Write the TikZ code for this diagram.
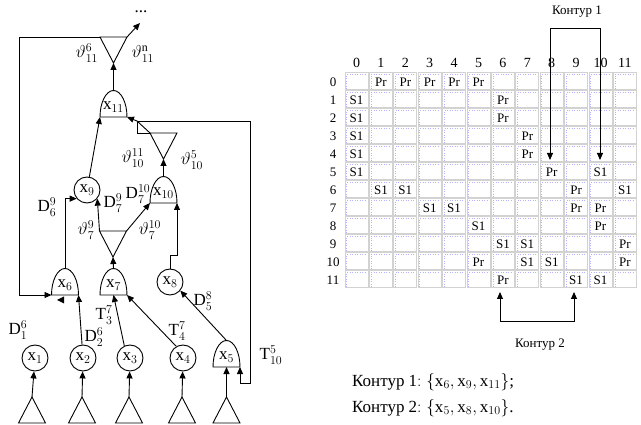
\documentclass[tikz,border=0pt]{standalone}
\usepackage{fontspec}
\setmainfont{Liberation Serif}
\usetikzlibrary{arrows.meta}
\tikzset{
  ln/.style={line width=0.9pt},
  arr/.style={-{Triangle[length=7pt,width=6pt]}},
  darr/.style={{Triangle[length=7pt,width=6pt]}-{Triangle[length=7pt,width=6pt]}},
  circ/.style={circle,draw,line width=0.9pt,minimum size=26pt,inner sep=0pt,font=\fontsize{17}{19}\selectfont},
  gatelbl/.style={inner sep=0pt,font=\fontsize{17}{19}\selectfont},
  lbl/.style={inner sep=0pt,font=\fontsize{17}{19}\selectfont},
  cellbox/.style={draw=gray!35,line width=1pt},
  celldot/.style={draw=blue!30,line width=0.5pt,dotted},
  celltxt/.style={inner sep=0pt,font=\fontsize{13}{15}\selectfont},
  hdrtxt/.style={inner sep=0pt,font=\fontsize{14}{16}\selectfont},
  kontxt/.style={inner sep=0pt,font=\fontsize{13}{15}\selectfont},
  bigtxt/.style={inner sep=0pt,anchor=west,font=\fontsize{17}{19}\selectfont},
}
\newcommand\mygate[4]{%
  \draw[ln] (#2-13.5,#3) .. controls (#2-13.5,#3-14.4) and (#2-7.5,#3-26.5) .. (#2,#3-26.5)
     .. controls (#2+7.5,#3-26.5) and (#2+13.5,#3-14.4) .. (#2+13.5,#3) -- cycle;
  \node[gatelbl] (#1) at (#2,#3-10) {#4};
  \coordinate (#1-bl) at (#2-13.5,#3);
  \coordinate (#1-br) at (#2+13.5,#3);
  \coordinate (#1-b) at (#2,#3);
  \coordinate (#1-t) at (#2,#3-26.5);
}
\newcommand\mytri[3]{%
  \coordinate (#1-l) at (#2-13.5,#3);
  \coordinate (#1-r) at (#2+13.5,#3);
  \coordinate (#1-a) at (#2,#3+26);
  \draw[ln] (#1-l) -- (#1-r) -- (#1-a) -- cycle;
}
\newcommand\myutri[3]{%
  \coordinate (#1-a) at (#2,#3);
  \draw[ln] (#1-a) -- (#2+13.5,#3+26) -- (#2-13.5,#3+26) -- cycle;
}
\begin{document}
\begin{tikzpicture}[x=1pt,y=-1pt]
\useasboundingbox (0,0) rectangle (641,425);
\fill[white] (0,0) rectangle (641,425);

% ---------- left graph ----------
\mygate{x11}{113.5}{117}{$\mathrm{x}_{11}$}
\mygate{x10}{163.5}{203}{$\mathrm{x}_{10}$}
\mygate{x6}{65}{295}{$\mathrm{x}_{6}$}
\mygate{x7}{113.5}{295}{$\mathrm{x}_{7}$}
\mygate{x5}{226.5}{367}{$\mathrm{x}_{5}$}
\node[circ] (x9) at (87,190) {$\mathrm{x}_9$};
\node[circ] (x8) at (170,282) {$\mathrm{x}_8$};
\node[circ] (x1) at (35,358) {$\mathrm{x}_1$};
\node[circ] (x2) at (83,358) {$\mathrm{x}_2$};
\node[circ] (x3) at (130,358) {$\mathrm{x}_3$};
\node[circ] (x4) at (183,358) {$\mathrm{x}_4$};

\mytri{t11}{113.5}{37}
\mytri{t10}{163.5}{133}
\mytri{t7}{113}{231}
\myutri{b1}{32}{397}
\myutri{b2}{82}{397}
\myutri{b3}{129}{397}
\myutri{b4}{182}{397}
\myutri{b5}{226.5}{397}

% connectors
\coordinate (dots) at (140,23);
\node[lbl] (dotsl) at (141,12) {...};
\draw[ln,arr] (x11-t) -- (t11-a);
\draw[ln,arr] (t11-r) -- (dots);
\coordinate (fb1a) at (19,37);
\coordinate (fb1b) at (19,295);
\draw[ln,arr] (t11-l) -- (fb1a) -- (fb1b) -- (x6-bl);
\draw[ln,arr] (x9) -- (x11-bl);
\coordinate (j1) at (137,121);
\coordinate (j2) at (137,133);
\coordinate (fa) at (250,121);
\coordinate (fb) at (250,383);
\coordinate (fc) at (240,383);
\draw[ln,arr] (j1) -- (x11-br);
\draw[ln,arr] (j1) -- (fa) -- (fb) -- (fc) -- (x5-br);
\draw[ln] (j1) -- (j2) -- (t10-l);
\draw[ln] (j1) -- (t10-l);
\draw[ln,arr] (x10-t) -- (t10-a);
\draw[ln,arr] (t7-l) -- (x9.-40);
\draw[ln,arr] (t7-r) -- (x10-bl);
\draw[ln,arr] (x6-t) |- (x9.-140);
\coordinate (k1) at (170,255);
\coordinate (k2) at (177,255);
\draw[ln,arr] (x8) -- (k1) -- (k2) -- (x10-br);
\draw[ln,arr] (x7-t) -- (t7-a);
\draw[ln,arr] (x2) -- (x6-br);
\draw[ln,arr] (x3.115) -- (x7-b);
\draw[ln,arr] (x4.120) -- (x7-br);
\draw[ln,arr] (x5-t) -- (x8.-40);
\fill (57,300) -- (64,296.5) -- (64,303.5) -- cycle;
\draw[ln,arr] (b1-a) -- (x1);
\draw[ln,arr] (b2-a) -- (x2);
\draw[ln,arr] (b3-a) -- (x3);
\draw[ln,arr] (b4-a) -- (x4);
\draw[ln,arr] (b5-a) -- (x5-b);

% labels
\node[lbl] (l1) at (87,53) {$\vartheta^{6}_{11}$};
\node[lbl] (l2) at (143,54) {$\vartheta^{\mathrm{n}}_{11}$};
\node[lbl] (l3) at (133,158) {$\vartheta^{11}_{10}$};
\node[lbl] (l4) at (192,160) {$\vartheta^{5}_{10}$};
\node[lbl] (l5) at (138,194) {$\mathrm{D}^{10}_{7}$};
\node[lbl] (l6) at (113,203) {$\mathrm{D}^{9}_{7}$};
\node[lbl] (l7) at (47,207) {$\mathrm{D}^{9}_{6}$};
\node[lbl] (l8) at (86,230) {$\vartheta^{9}_{7}$};
\node[lbl] (l9) at (150,230) {$\vartheta^{10}_{7}$};
\node[lbl] (l10) at (18,330) {$\mathrm{D}^{6}_{1}$};
\node[lbl] (l11) at (94,337) {$\mathrm{D}^{6}_{2}$};
\node[lbl] (l12) at (104,315) {$\mathrm{T}^{7}_{3}$};
\node[lbl] (l13) at (177,331) {$\mathrm{T}^{7}_{4}$};
\node[lbl] (l14) at (203,301) {$\mathrm{D}^{8}_{5}$};
\node[lbl] (l15) at (271,355) {$\mathrm{T}^{5}_{10}$};

% ---------- table ----------
\foreach \r in {0,...,11} {
  \foreach \c in {0,...,11} {
    \draw[cellbox] (345+24.4*\c,73+18*\r) rectangle (368+24.4*\c,90+18*\r);
    \draw[celldot] (346.5+24.4*\c,89+18*\r) -- (346.5+24.4*\c,74.5+18*\r) -- (366.5+24.4*\c,74.5+18*\r);
  }
}
\foreach \i in {0,...,11} {
  \node[hdrtxt] (h\i) at (356.5+24.4*\i,63) {\i};
  \node[celltxt] (r\i) at (333,82+18*\i) {\i};
}
\foreach \r/\c/\t in {0/1/Pr,0/2/Pr,0/3/Pr,0/4/Pr,0/5/Pr,
  1/0/S1,1/6/Pr,2/0/S1,2/6/Pr,3/0/S1,3/7/Pr,4/0/S1,4/7/Pr,
  5/0/S1,5/8/Pr,5/10/S1,6/1/S1,6/2/S1,6/9/Pr,6/11/S1,
  7/3/S1,7/4/S1,7/9/Pr,7/10/Pr,8/5/S1,8/10/Pr,
  9/6/S1,9/7/S1,9/11/Pr,10/5/Pr,10/7/S1,10/8/S1,10/11/Pr,
  11/6/Pr,11/9/S1,11/10/S1} {
  \node[celltxt] (e-\r-\c) at (356.5+24.4*\c,82+18*\r) {\t};
}

% contours
\coordinate (k1a) at (550,160);
\coordinate (k1b) at (550,28);
\coordinate (k1c) at (600,28);
\coordinate (k1d) at (600,160);
\draw[ln,darr] (k1a) -- (k1b) -- (k1c) -- (k1d);
\node[kontxt] (kon1) at (577,12) {Контур 1};
\coordinate (k2a) at (500,292);
\coordinate (k2b) at (500,321);
\coordinate (k2c) at (574,321);
\coordinate (k2d) at (574,292);
\draw[ln,darr] (k2a) -- (k2b) -- (k2c) -- (k2d);
\node[kontxt] (kon2) at (540,345) {Контур 2};

\node[bigtxt] (s1) at (352,382) {Контур 1$:\left\{\mathrm{x}_6,\mathrm{x}_9,\mathrm{x}_{11}\right\}$;};
\node[bigtxt] (s2) at (352,408) {Контур 2$:\left\{\mathrm{x}_5,\mathrm{x}_8,\mathrm{x}_{10}\right\}$.};
\end{tikzpicture}
\end{document}
